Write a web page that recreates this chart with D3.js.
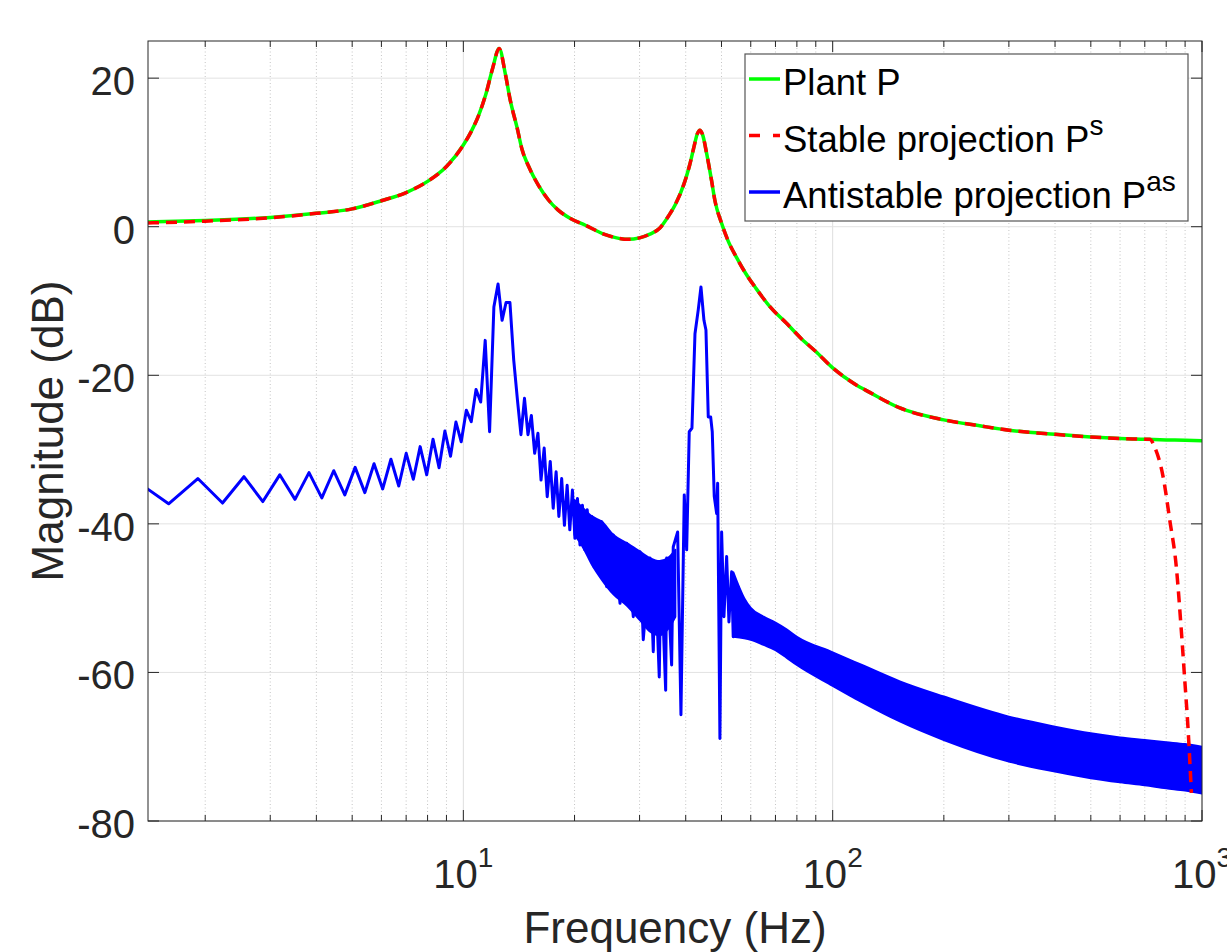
<!DOCTYPE html>
<html><head><meta charset="utf-8">
<script src="https://cdn.jsdelivr.net/npm/d3@7"></script>
<style>
body{margin:0;background:#fff}
text{font-family:"Liberation Sans",Arial,Helvetica,sans-serif}
</style>
</head><body>
<svg id="c" width="1227" height="952"></svg>
<script>
// ---------- DATA ----------
const greenFreq = [1.4,2,3,4,5,6,7,8,9,10,10.5,11,11.5,12,12.5,13,13.4,14,14.4,15,16,17,18,19.5,21.4,24,26,27.9,30,32,34,36,37.5,39.6,41,42,43,43.7,44.5,45.6,47,48,50,52,55,58,62,68,75,82,90,100,115,126,152,200,250,300,400,500,600,700,800,900,1000];
const greenDb   = [0.65,0.85,1.25,1.8,2.4,3.5,4.6,6.1,8.1,11.0,12.8,15.0,17.8,21.3,24.0,20.5,17.0,13.2,10.5,8.2,5.5,3.6,2.3,1.1,0.2,-1.0,-1.5,-1.7,-1.5,-1.0,-0.2,1.5,3.0,5.8,8.3,10.5,12.5,13.0,12.3,9.8,6.2,3.5,0.5,-1.8,-4.2,-6.2,-8.3,-10.9,-13.0,-15.0,-16.8,-19.0,-21.2,-22.3,-24.4,-26.0,-26.8,-27.4,-27.95,-28.3,-28.5,-28.6,-28.7,-28.75,-28.8];

const redFreq = [1.4,2,3,4,5,6,7,8,9,10,10.5,11,11.5,12,12.5,13,13.4,14,14.4,15,16,17,18,19.5,21.4,24,26,27.9,30,32,34,36,37.5,39.6,41,42,43,43.7,44.5,45.6,47,48,50,52,55,58,62,68,75,82,90,100,115,126,152,200,250,300,400,500,600,700,722,745,785,818,852,880,898,917,936];
const redDb   = [0.5,0.75,1.2,1.8,2.4,3.5,4.6,6.1,8.1,11.0,12.8,15.0,17.8,21.3,24.0,20.5,17.0,13.2,10.5,8.2,5.5,3.6,2.3,1.1,0.2,-1.0,-1.5,-1.7,-1.5,-1.0,-0.2,1.5,3.0,5.8,8.3,10.5,12.5,13.0,12.3,9.8,6.2,3.5,0.5,-1.8,-4.2,-6.2,-8.3,-10.9,-13.0,-15.0,-16.8,-19.0,-21.2,-22.3,-24.4,-26.0,-26.8,-27.4,-27.95,-28.3,-28.5,-28.6,-28.6,-29.7,-33.7,-39.5,-45.8,-54.7,-61.0,-67.7,-76.2];

const blueFreq = [1.273,1.592,1.910,2.228,2.546,2.865,3.183,3.501,3.820,4.138,4.456,4.775,5.093,5.411,5.730,6.048,6.366,6.685,7.003,7.321,7.639,7.958,8.276,8.594,8.913,9.231,9.549,9.868,10.186,10.504,10.823,11.141,11.459,11.777,12.096,12.414,
  12.73,13.05,13.37,13.69,14.01,14.32,14.64,14.96,15.28,15.60,15.92,16.23,16.55,16.87,17.19,17.51,17.83,18.14,18.46,18.78,19.10,19.42,19.74,20.05,20.37,20.69,21.01,21.33,21.65,21.96,22.28,
  22.6,23.69,24.44,25.47,26.56,27.69,28.85,30.08,30.70,32.02,32.68,33.03,33.92,34.28,35.30,35.52,36.64,37.01,38.04,38.83,39.64,40.24,40.89,41.59,42.38,43.25,43.99,44.82,45.38,46.04,46.73,47.20,47.79,48.51,48.81,49.51,50.04,50.77,51.63,52.37,53.26,53.79,55.48,56.07,57.59];
const blueDb = [-33.9,-37.3,-33.9,-37.2,-33.65,-37.0,-33.4,-36.7,-33.1,-36.5,-32.85,-36.1,-32.4,-35.8,-31.9,-35.3,-31.3,-34.9,-30.5,-34.0,-29.6,-33.4,-28.6,-32.45,-27.5,-30.9,-26.3,-28.95,-24.7,-26.25,-21.9,-23.6,-15.3,-27.6,-10.8,-7.7,
  -12.6,-10.2,-10.2,-17.95,-23.3,-28.0,-23.1,-28.0,-25.4,-30.5,-27.8,-34.1,-29.8,-36.35,-31.6,-37.9,-33.0,-39.0,-33.9,-40.2,-34.8,-40.8,-35.45,-41.95,-36.6,-42.85,-37.5,-43.5,-38.1,-44.4,-39.0,
  -45.8,-39.7,-48.45,-41.5,-50.7,-42.6,-52.5,-43.75,-55.6,-44.6,-57.2,-45.3,-60.6,-45.3,-62.4,-44.6,-59.0,-43.1,-41.1,-65.7,-36.1,-43.5,-27.6,-27.1,-14.4,-11.2,-8.1,-12.6,-13.9,-25.6,-25.6,-27.6,-36.3,-38.6,-34.55,-68.9,-41.1,-52.5,-44.4,-53.2,-46.45,-55.2,-48.5,-54.4,-50.3];

// dense oscillation bands (upper / lower envelopes)
const bandAFreq = [20.0,21.0,22.3,23.7,25.5,27.7,30.1,32.0,34.0,36.0,37.5];
const bandAHi   = [-36.8,-37.8,-39.0,-39.7,-41.5,-42.6,-43.75,-44.6,-45.0,-44.5,-43.5];
const bandALo   = [-41.5,-43.0,-45.5,-47.5,-49.5,-51.0,-53.0,-54.5,-55.0,-54.0,-52.5];
const bandBFreq = [53.8,57.6,60,65,70,75,80,100,120,152,200,300,400,500,600,700,800,900,1000];
const bandBHi   = [-46.5,-50.0,-51.3,-52.5,-53.3,-54.2,-55.2,-57.3,-59.0,-61.2,-63.25,-65.95,-67.3,-68.2,-68.75,-69.1,-69.4,-69.65,-70.0];
const bandBLo   = [-55.2,-55.4,-55.6,-56.3,-57.0,-58.0,-59.0,-61.8,-64.0,-66.6,-69.1,-72.0,-73.35,-74.25,-74.8,-75.2,-75.6,-75.9,-76.3];

const yTicks = [-80,-60,-40,-20,0,20];
const xMajor = [10,100,1000];
const xMajorExp = ["1","2","3"];
const legendLabels = ["Plant P","Stable projection P","Antistable projection P"];
const legendSup = ["","s","as"];
const seriesColors = ["#00ff00","#ff0000","#0000ff"];

// ---------- LAYOUT ----------
const L=148,R=1202,T=41,B=821;
const svg = d3.select("#c");
svg.append("rect").attr("width",1227).attr("height",952).attr("fill","#fff");
const x = d3.scaleLog().domain([1.4,1000]).range([L,R]);
const y = d3.scaleLinear().domain([-80,25]).range([B,T]);

svg.append("defs").append("clipPath").attr("id","clip")
  .append("rect").attr("x",L).attr("y",T).attr("width",R-L).attr("height",B-T);

const allX = x.ticks();
const isMajor = v => Math.abs(Math.log10(v)-Math.round(Math.log10(v)))<1e-9;
const minorX = allX.filter(v=>!isMajor(v));

// grid
const grid = svg.append("g");
grid.selectAll(".gm").data(minorX).enter().append("line")
  .attr("x1",d=>x(d)).attr("x2",d=>x(d)).attr("y1",T).attr("y2",B)
  .attr("stroke","#c4c4c4").attr("stroke-width",1).attr("stroke-dasharray","1,2.5");
grid.selectAll(".gM").data(xMajor).enter().append("line")
  .attr("x1",d=>x(d)).attr("x2",d=>x(d)).attr("y1",T).attr("y2",B)
  .attr("stroke","#dedede").attr("stroke-width",1);
grid.selectAll(".gy").data(yTicks).enter().append("line")
  .attr("x1",L).attr("x2",R).attr("y1",d=>y(d)).attr("y2",d=>y(d))
  .attr("stroke","#e2e2e2").attr("stroke-width",1);

// data
const plot = svg.append("g").attr("clip-path","url(#clip)");
const lineGen = d3.line().x(d=>x(d[0])).y(d=>y(d[1]));
const curve = d3.line().x(d=>x(d[0])).y(d=>y(d[1])).curve(d3.curveMonotoneX);
const areaGen = d3.area().x(d=>x(d[0])).y0(d=>y(d[2])).y1(d=>y(d[1])).curve(d3.curveMonotoneX);

const bandA = bandAFreq.map((f,i)=>[f,bandAHi[i],bandALo[i]]);
const bandB = bandBFreq.map((f,i)=>[f,bandBHi[i],bandBLo[i]]);
[bandA,bandB].forEach(b=>{
  plot.append("path").attr("d",areaGen(b)).attr("fill",seriesColors[2])
    .attr("stroke",seriesColors[2]).attr("stroke-width",2).attr("stroke-linejoin","round");
});
plot.append("path").attr("d",lineGen(blueFreq.map((f,i)=>[f,blueDb[i]])))
  .attr("fill","none").attr("stroke",seriesColors[2]).attr("stroke-width",3).attr("stroke-linejoin","round");

plot.append("path").attr("d",curve(greenFreq.map((f,i)=>[f,greenDb[i]])))
  .attr("fill","none").attr("stroke",seriesColors[0]).attr("stroke-width",3.5).attr("stroke-linejoin","round");
plot.append("path").attr("d",curve(redFreq.map((f,i)=>[f,redDb[i]])))
  .attr("fill","none").attr("stroke",seriesColors[1]).attr("stroke-width",3.5)
  .attr("stroke-dasharray","11,7");

// axes box and ticks
const ax = svg.append("g").attr("stroke","#262626").attr("stroke-width",1);
ax.append("rect").attr("x",L).attr("y",T).attr("width",R-L).attr("height",B-T).attr("fill","none");
yTicks.forEach(v=>{
  ax.append("line").attr("x1",L).attr("x2",L+11).attr("y1",y(v)).attr("y2",y(v));
  ax.append("line").attr("x1",R-11).attr("x2",R).attr("y1",y(v)).attr("y2",y(v));
});
xMajor.forEach(v=>{
  ax.append("line").attr("x1",x(v)).attr("x2",x(v)).attr("y1",B).attr("y2",B-11);
  ax.append("line").attr("x1",x(v)).attr("x2",x(v)).attr("y1",T).attr("y2",T+11);
});
minorX.forEach(v=>{
  ax.append("line").attr("x1",x(v)).attr("x2",x(v)).attr("y1",B).attr("y2",B-6);
  ax.append("line").attr("x1",x(v)).attr("x2",x(v)).attr("y1",T).attr("y2",T+6);
});

// tick labels
svg.selectAll(".yl").data(yTicks).enter().append("text")
  .attr("x",135).attr("y",d=>y(d)+17).attr("text-anchor","end")
  .attr("font-size",40).attr("fill","#262626").text(d=>d);
xMajor.forEach((v,i)=>{
  const t = svg.append("text").attr("x",x(v)).attr("y",888).attr("text-anchor","middle")
    .attr("font-size",40).attr("fill","#262626");
  t.append("tspan").text("10");
  t.append("tspan").attr("dy",-21).attr("font-size",28).text(xMajorExp[i]);
});

// axis labels
svg.append("text").attr("x",(L+R)/2).attr("y",943).attr("text-anchor","middle")
  .attr("font-size",44).attr("fill","#262626").text("Frequency (Hz)");
svg.append("text").attr("transform",`translate(63,${(T+B)/2}) rotate(-90)`).attr("text-anchor","middle")
  .attr("font-size",44).attr("fill","#262626").text("Magnitude (dB)");

// legend
const lg = svg.append("g");
lg.append("rect").attr("x",745).attr("y",54).attr("width",443).attr("height",167)
  .attr("fill","#fff").attr("stroke","#555").attr("stroke-width",1.2);
const rowBase = [95,151.5,208];
legendLabels.forEach((lab,i)=>{
  const ln = lg.append("line").attr("x1",749).attr("x2",780).attr("y1",rowBase[i]-16).attr("y2",rowBase[i]-16)
    .attr("stroke",seriesColors[i]).attr("stroke-width",3.5);
  if(i===1) ln.attr("stroke-dasharray","11,13");
  const t = lg.append("text").attr("x",783).attr("y",rowBase[i]).attr("font-size",36.5).attr("fill","#000");
  t.append("tspan").text(lab);
  if(legendSup[i]) t.append("tspan").attr("dy",-17).attr("font-size",28).text(legendSup[i]);
});
</script>
</body></html>
